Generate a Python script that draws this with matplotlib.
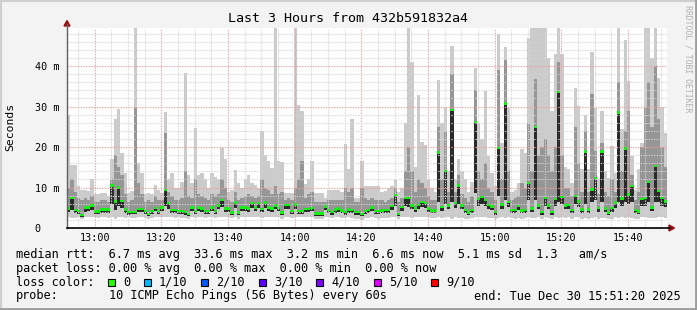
import numpy as np
import matplotlib.pyplot as plt
from matplotlib.patches import Rectangle, Polygon
from matplotlib.lines import Line2D

# ---- data: one sample per minute, 180 minutes (ms) ----
rtt_med = [4.8, 7.4, 4.4, 4.2, 3.2, 5.1, 5.1, 5.6, 4.1, 4.1,
           4.6, 4.6, 4.6, 10.5, 6.5, 10.0, 6.6, 4.6, 4.0, 4.0,
           4.0, 4.7, 4.7, 4.2, 3.4, 4.2, 5.0, 4.2, 5.1, 9.4,
           6.2, 4.4, 4.4, 4.2, 4.2, 4.0, 3.4, 5.1, 4.2, 5.1,
           4.8, 4.2, 4.2, 5.1, 4.2, 5.6, 6.9, 4.8, 4.8, 3.8,
           6.3, 3.8, 5.1, 5.1, 4.8, 6.2, 5.1, 6.2, 4.7, 6.3,
           5.1, 4.8, 5.6, 5.0, 3.8, 5.7, 5.7, 4.2, 5.8, 4.2,
           4.2, 4.7, 4.7, 5.0, 3.6, 3.6, 3.6, 5.3, 4.4, 4.0,
           4.6, 4.8, 4.3, 4.0, 4.6, 4.4, 4.0, 4.0, 3.4, 4.2,
           4.4, 5.1, 4.2, 4.2, 4.3, 4.4, 4.4, 5.4, 8.1, 3.5,
           5.2, 7.4, 7.4, 5.6, 4.8, 5.7, 6.4, 6.2, 4.8, 4.3,
           4.3, 18.6, 5.2, 14.1, 5.6, 29.1, 6.2, 10.5, 5.6, 4.4,
           3.8, 4.4, 26.2, 7.2, 7.7, 6.9, 5.7, 5.3, 4.0, 19.8,
           5.8, 30.8, 6.4, 4.4, 4.4, 5.4, 4.3, 4.4, 11.1, 4.8,
           24.9, 5.6, 4.0, 7.4, 5.6, 4.0, 7.1, 33.6, 7.7, 5.6,
           5.7, 4.4, 7.9, 6.5, 4.6, 18.9, 4.6, 9.5, 12.4, 4.9,
           18.9, 4.8, 3.8, 4.9, 6.3, 28.5, 7.3, 19.6, 8.3, 10.4,
           4.4, 4.1, 7.1, 7.4, 11.4, 5.1, 15.3, 9.1, 7.4, 6.5]

rtt_max = [27.8, 15.5, 15.5, 10.4, 9.5, 9.5, 9.1, 12.0, 8.3, 8.3,
           8.7, 8.7, 7.9, 17.0, 26.8, 29.3, 18.6, 13.7, 8.7, 9.1,
           49.4, 16.0, 13.7, 8.3, 8.7, 8.3, 10.5, 9.5, 8.7, 28.6,
           12.0, 13.5, 10.0, 10.0, 11.3, 38.4, 13.0, 11.0, 24.8, 13.0,
           13.5, 12.0, 10.0, 13.7, 12.5, 12.0, 19.8, 17.0, 9.0, 9.5,
           14.3, 11.0, 10.0, 12.0, 13.1, 11.0, 10.5, 10.0, 24.0, 18.0,
           16.5, 14.9, 49.4, 16.5, 16.3, 8.7, 8.7, 8.7, 49.4, 30.4,
           28.9, 10.8, 12.0, 16.5, 8.7, 8.7, 8.7, 7.5, 9.5, 9.5,
           9.5, 9.5, 9.0, 20.7, 14.5, 26.8, 7.5, 7.5, 16.5, 10.4,
           10.4, 10.4, 10.4, 10.4, 9.0, 9.1, 10.0, 10.4, 11.9, 9.0,
           10.0, 26.0, 49.4, 41.0, 15.0, 32.8, 21.2, 20.5, 12.0, 10.0,
           9.0, 36.6, 26.0, 30.0, 14.0, 44.9, 12.0, 17.0, 14.0, 12.0,
           9.0, 11.4, 39.6, 26.0, 22.0, 33.8, 17.8, 13.7, 10.4, 47.8,
           21.0, 44.8, 29.7, 9.0, 9.5, 11.0, 19.4, 18.6, 46.9, 49.4,
           49.4, 49.4, 49.4, 49.4, 42.0, 29.0, 43.0, 49.4, 43.0, 15.0,
           14.5, 11.2, 34.6, 30.1, 14.5, 28.0, 14.5, 43.5, 29.7, 12.0,
           28.9, 14.0, 12.4, 20.2, 13.7, 49.4, 24.4, 46.4, 36.3, 17.8,
           9.5, 14.5, 21.0, 49.4, 49.4, 42.0, 49.4, 37.0, 30.0, 23.5]

rtt_q3 = [10.0, 12.0, 9.0, 7.5, 7.0, 7.5, 7.0, 8.0, 6.5, 6.5,
          7.0, 7.0, 6.5, 12.0, 18.0, 15.0, 13.0, 8.5, 6.5, 7.0,
          29.7, 11.0, 8.5, 6.5, 7.0, 6.5, 8.0, 7.0, 7.0, 23.5,
          9.0, 8.0, 7.0, 7.0, 7.5, 14.0, 8.0, 7.5, 12.0, 8.5,
          8.0, 7.5, 7.0, 8.5, 8.0, 8.5, 12.0, 10.0, 7.0, 6.5,
          9.0, 7.0, 7.5, 8.0, 8.5, 8.0, 7.5, 8.0, 12.0, 10.0,
          9.5, 8.5, 10.4, 8.5, 9.0, 7.0, 7.5, 7.0, 10.0, 12.0,
          16.5, 7.5, 8.5, 9.0, 6.5, 6.5, 6.5, 6.5, 7.0, 7.0,
          7.0, 7.0, 7.0, 10.0, 9.0, 10.0, 6.5, 6.5, 10.0, 7.5,
          7.0, 7.5, 7.0, 7.0, 7.0, 6.5, 7.0, 7.5, 10.0, 6.5,
          7.5, 14.0, 20.0, 14.0, 9.0, 12.0, 11.0, 10.0, 8.0, 7.0,
          7.0, 25.0, 12.0, 24.0, 9.0, 38.0, 9.0, 13.0, 8.5, 7.5,
          6.5, 8.0, 34.0, 14.0, 12.0, 16.0, 10.0, 9.0, 7.0, 39.0,
          12.0, 41.6, 14.0, 7.0, 7.5, 8.0, 11.0, 10.0, 26.0, 14.0,
          36.7, 18.0, 20.0, 22.0, 18.0, 14.0, 20.0, 41.0, 18.0, 10.0,
          10.0, 8.0, 25.0, 16.0, 9.0, 24.0, 9.0, 33.0, 19.0, 8.5,
          21.0, 9.0, 8.0, 12.0, 9.0, 36.0, 14.0, 24.0, 29.0, 13.0,
          7.0, 9.0, 20.0, 30.0, 36.0, 25.0, 40.0, 27.0, 20.0, 15.0]

rtt_q1 = [3.9, 4.5, 3.6, 3.5, 2.8, 4.0, 4.2, 4.5, 3.4, 3.4,
          3.8, 3.7, 3.8, 6.0, 4.5, 5.5, 5.0, 3.8, 3.3, 3.4,
          3.4, 3.9, 3.9, 3.5, 2.9, 3.5, 4.1, 3.5, 4.2, 5.5,
          4.8, 3.7, 3.7, 3.5, 3.5, 3.3, 2.9, 4.2, 3.5, 4.2,
          4.0, 3.5, 3.5, 4.2, 3.5, 4.6, 5.2, 4.0, 4.0, 3.2,
          4.9, 3.2, 4.2, 4.2, 4.0, 4.9, 4.2, 4.9, 3.9, 4.9,
          4.2, 4.0, 4.6, 4.1, 3.2, 4.7, 4.6, 3.5, 4.7, 3.5,
          3.5, 3.9, 3.9, 4.1, 3.0, 3.0, 3.0, 4.4, 3.7, 3.3,
          3.8, 4.0, 3.6, 3.3, 3.8, 3.7, 3.3, 3.3, 2.9, 3.5,
          3.7, 4.2, 3.5, 3.5, 3.6, 3.7, 3.7, 4.4, 5.5, 2.9,
          4.3, 5.5, 5.2, 4.6, 4.0, 4.7, 5.2, 5.0, 4.0, 3.6,
          3.6, 6.5, 4.3, 6.0, 4.6, 6.5, 5.0, 6.0, 4.6, 3.7,
          3.2, 3.7, 8.7, 5.5, 6.0, 5.5, 4.7, 4.4, 3.3, 7.9,
          4.8, 7.0, 5.2, 3.7, 3.7, 4.5, 3.6, 3.7, 7.0, 4.0,
          7.0, 4.6, 3.3, 5.5, 4.6, 3.3, 5.5, 6.5, 6.0, 4.6,
          4.7, 3.7, 6.0, 5.2, 3.8, 6.0, 3.8, 6.5, 7.0, 4.0,
          6.5, 4.0, 3.2, 4.0, 5.0, 6.5, 5.5, 6.5, 6.0, 6.5,
          3.6, 3.4, 5.5, 5.5, 6.5, 4.2, 6.5, 6.5, 5.5, 5.2]

rtt_min = [2.6, 2.5, 2.4, 2.6, 2.2, 2.7, 2.6, 2.7, 2.6, 2.5,
           2.7, 2.6, 2.5, 2.8, 2.3, 2.8, 2.6, 2.4, 2.6, 2.5,
           2.5, 2.7, 2.6, 2.5, 2.3, 2.5, 2.7, 2.6, 2.6, 2.7,
           2.8, 2.6, 2.5, 2.6, 2.5, 2.4, 2.2, 2.7, 2.5, 2.8,
           2.6, 2.5, 2.6, 2.7, 2.5, 2.8, 2.8, 2.6, 2.7, 2.4,
           2.7, 2.3, 2.6, 2.7, 2.6, 2.8, 2.6, 2.7, 2.5, 2.8,
           2.7, 2.6, 2.6, 2.7, 2.3, 2.8, 2.7, 2.5, 2.7, 2.6,
           2.6, 2.7, 2.6, 2.7, 2.3, 2.2, 2.3, 2.8, 2.6, 2.4,
           2.6, 2.7, 2.5, 2.4, 2.6, 2.5, 2.3, 2.2, 2.0, 2.4,
           2.5, 2.6, 2.4, 2.3, 2.5, 2.4, 2.5, 2.6, 2.8, 2.2,
           2.6, 2.7, 2.6, 2.5, 2.6, 2.7, 2.7, 2.8, 2.6, 2.4,
           2.4, 2.6, 2.5, 2.7, 2.6, 2.3, 2.6, 2.5, 2.4, 2.3,
           2.1, 2.4, 2.6, 2.7, 2.8, 2.6, 2.5, 2.4, 2.2, 2.5,
           2.6, 2.4, 2.6, 2.4, 2.3, 2.5, 2.3, 2.4, 2.6, 2.4,
           2.5, 2.6, 2.2, 2.7, 2.5, 2.2, 2.6, 2.4, 2.7, 2.5,
           2.6, 2.3, 2.7, 2.6, 2.3, 2.5, 2.3, 2.4, 2.6, 2.3,
           2.5, 2.4, 2.1, 2.3, 2.6, 2.5, 2.7, 2.5, 2.6, 2.5,
           2.3, 2.2, 2.6, 2.6, 2.5, 2.4, 2.4, 2.6, 2.7, 2.5]

time_labels = ["13:00", "13:20", "13:40", "14:00", "14:20", "14:40", "15:00", "15:20", "15:40"]
y_ticks = [0, 10, 20, 30, 40]
y_labels = ["0", "10 m", "20 m", "30 m", "40 m"]

loss_labels = ["0", "1/10", "2/10", "3/10", "4/10", "5/10", "9/10"]
loss_colors = ["#26ff00", "#00b8ff", "#0059ff", "#5e00ff", "#7e00ff", "#dd00ff", "#ff0000"]

stats_lines = [
    "median rtt:  6.7 ms avg  33.6 ms max  3.2 ms min  6.6 ms now  5.1 ms sd  1.3   am/s",
    "packet loss: 0.00 % avg  0.00 % max  0.00 % min  0.00 % now",
]
probe_text = "10 ICMP Echo Pings (56 Bytes) every 60s"
end_text = "end: Tue Dec 30 15:51:20 2025"
title = "Last 3 Hours from 432b591832a4"

# ---- layout (pixels) ----
W, H = 697, 310
MONO = "DejaVu Sans Mono"
def fx(x): return x / W
def fy(y): return 1 - y / H

fig = plt.figure(figsize=(W / 100, H / 100), dpi=100)
fig.patch.set_facecolor("#f3f3f3")

ax = fig.add_axes([fx(67), fy(228), 600 / W, 200 / H])
ax.set_facecolor("white")
n = len(rtt_med)
xe = np.arange(n + 1)
def edge(v):
    v = np.asarray(v, dtype=float)
    return np.append(v, v[-1])
lo, q1, med, q3, hi = map(edge, (rtt_min, rtt_q1, rtt_med, rtt_q3, rtt_max))

# smoke layers as step areas (no seams between minutes)
ax.fill_between(xe, lo, hi, step="post", color="#cbcbcb", lw=0, zorder=1)
ax.fill_between(xe, q1, q3, step="post", color="#969696", lw=0, zorder=1.1)
ax.fill_between(xe, q1, med, step="post", color="#2a2a2a", lw=0, zorder=1.2)
# median marks
ax.bar(np.arange(n), 0.6, bottom=med[:-1] - 0.3, width=1, align="edge",
       color="#14f014", lw=0, zorder=3)

ax.set_xlim(0, n)
ax.set_ylim(0, 49.4)
for s in ax.spines.values():
    s.set_visible(False)

# grid drawn over the smoke, like rrdtool
first_tick = 8.33
for xm in np.arange(first_tick - 5, n, 5):
    major = abs(((xm - first_tick) / 20) - round((xm - first_tick) / 20)) < 1e-6
    ax.axvline(xm, color="#f0a0a0" if major else "#d4d4d4", lw=0.8,
               ls=(0, (1.2, 1.2)), zorder=2)
for ym in np.arange(2, 49.4, 2):
    major = ym % 10 == 0
    ax.axhline(ym, color="#f0a0a0" if major else "#d4d4d4", lw=0.8,
               ls=(0, (1.2, 1.2)), zorder=2)

ax.set_xticks([first_tick + 20 * k for k in range(len(time_labels))])
ax.set_xticklabels(time_labels, fontsize=7.3, family=MONO)
ax.set_yticks(y_ticks)
ax.set_yticklabels([lab.ljust(4) for lab in y_labels], fontsize=7.3, family=MONO)
ax.tick_params(axis="x", length=0, pad=3.5)
ax.tick_params(axis="y", length=0, pad=5.5)

# axes lines with arrows
fig.add_artist(Line2D([fx(67), fx(67)], [fy(228), fy(24)], color="#606060", lw=1))
fig.add_artist(Line2D([fx(67), fx(670)], [fy(228), fy(228)], color="black", lw=1.2))
fig.add_artist(Polygon([(fx(64), fy(26)), (fx(70), fy(26)), (fx(67), fy(20.5))],
                       closed=True, color="#9a1010", transform=fig.transFigure))
fig.add_artist(Polygon([(fx(669), fy(225)), (fx(669), fy(231)), (fx(674.5), fy(228))],
                       closed=True, color="#9a1010", transform=fig.transFigure))

# texts
fig.text(fx(348.5), fy(19), title, ha="center", va="center", fontsize=9.6, family=MONO)
fig.text(fx(10), fy(127), "Seconds", rotation=90, ha="center", va="center",
         fontsize=8.2, family=MONO)
fig.text(fx(688), fy(59), "RRDTOOL / TOBI OETIKER", rotation=270, ha="center",
         va="center", fontsize=5.9, family=MONO, color="#b0b0b0")

fs = 8.6
cw = 0.6021 * fs * 100 / 72
rows = [254.3, 268.3, 282.3, 296.0]
for row, line in zip(rows, stats_lines):
    fig.text(fx(16), fy(row), line, va="center", fontsize=fs, family=MONO)

fig.text(fx(16), fy(rows[2]), "loss color:", va="center", fontsize=fs, family=MONO)
col = 12.75
for lab, c in zip(loss_labels, loss_colors):
    sx = 16 + col * cw
    fig.add_artist(Rectangle((fx(sx), fy(rows[2] + 3.5)), 7 / W, 7 / H,
                             transform=fig.transFigure, facecolor=c,
                             edgecolor="black", lw=0.8))
    fig.text(fx(16 + (col + 2.1) * cw), fy(rows[2]), lab, va="center",
             fontsize=fs, family=MONO)
    col += 4 + len(lab)

fig.text(fx(16), fy(rows[3]), "probe:", va="center", fontsize=fs, family=MONO)
fig.text(fx(16 + 13 * cw), fy(rows[3]), probe_text, va="center", fontsize=fs, family=MONO)
fig.text(fx(681), fy(rows[3]), end_text, ha="right", va="center", fontsize=fs, family=MONO)

# frame around the image
fig.add_artist(Line2D([fx(0.5), fx(0.5)], [0, 1], color="#cfcfcf", lw=1.5))
fig.add_artist(Line2D([0, 1], [fy(0.5), fy(0.5)], color="#cfcfcf", lw=1.5))
fig.add_artist(Line2D([fx(696), fx(696)], [0, 1], color="#9c9c9c", lw=2))
fig.add_artist(Line2D([0, 1], [fy(309), fy(309)], color="#9c9c9c", lw=2))

fig.savefig("out.png", dpi=100, facecolor=fig.get_facecolor())
